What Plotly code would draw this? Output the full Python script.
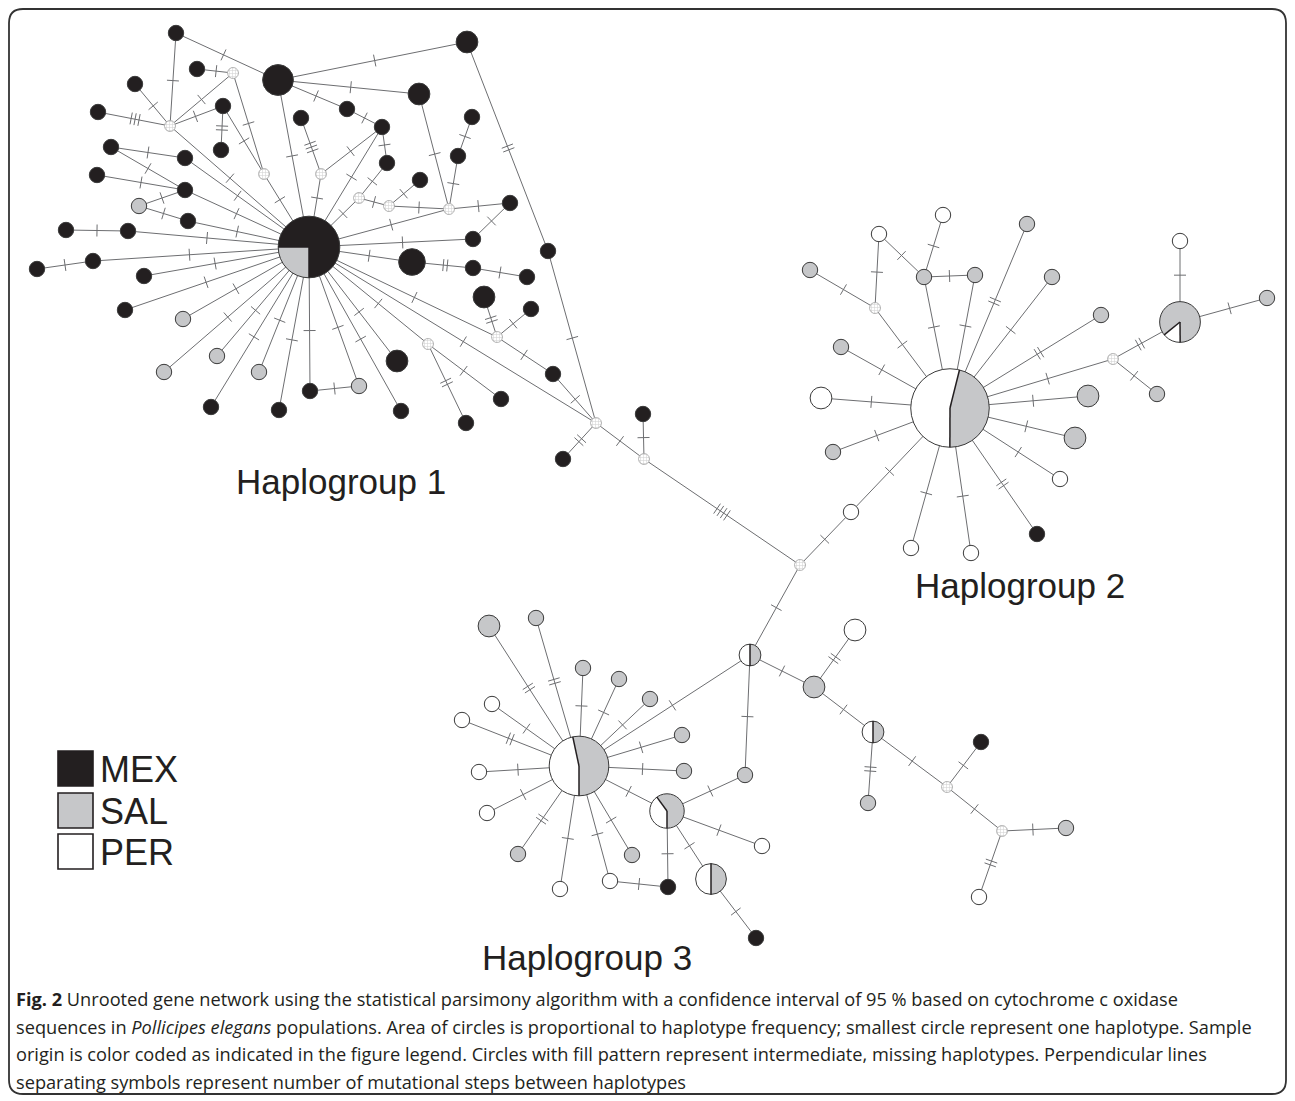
import numpy as np
import plotly.graph_objects as go

# ---------------- data ----------------
# sampled haplotypes: id, layout position, counts per population (MEX, SAL, PER)
hap_ids = ["C1", "a1", "a2", "a3", "a4", "a5", "a6", "a7", "a8", "a9", "a10", "a11", "a12", "a13",
           "a14", "a15", "a16", "a17", "a18", "a19", "a20", "a21", "a22", "a23", "a24", "a25", "a26",
           "a27", "a28", "a29", "a30", "a31", "a32", "a33", "a34", "a35", "a36", "a37", "a38", "a39",
           "a40", "a41", "a42", "a43", "a44", "a45", "a46", "a47", "a48", "a49", "a50", "a51",
           "C2", "b1", "b2", "b3", "b4", "b5", "b6", "b7", "b8", "b9", "b10", "b11", "b12", "b13",
           "b14", "b15", "b16", "b17", "b18", "b19", "b20", "b21", "b22",
           "C3", "c1", "c2", "c3", "c4", "c5", "c6", "c7", "c8", "c9", "c10", "c11", "c12", "c13",
           "c14", "c15", "c16", "c17", "c18", "c19", "c20", "c21", "c22", "c23", "c24", "c25", "c26",
           "c27", "c28", "c29"]
hap_x = [309, 176, 197, 278, 135, 98, 223, 221, 301, 111, 185, 97, 185, 139,
         188, 66, 128, 347, 467, 419, 382, 387, 420, 472, 458, 510, 473,
         548, 412, 473, 527, 484, 531, 397, 359, 401, 466, 501, 553, 563,
         643, 37, 93, 144, 125, 183, 217, 164, 259, 211, 279, 310,
         950, 943, 879, 810, 924, 975, 1027, 1052, 1101, 1180, 1180, 1267, 1157, 841,
         821, 1088, 1075, 833, 1060, 851, 911, 971, 1037,
         579, 489, 536, 583, 619, 650, 682, 684, 492, 462, 479, 487, 518, 560,
         610, 668, 632, 667, 745, 750, 762, 711, 756, 855, 814, 873, 868,
         981, 1066, 979]
hap_y = [247, 33, 69, 80, 84, 112, 106, 150, 118, 147, 158, 175, 190, 206,
         221, 230, 231, 109, 42, 94, 127, 163, 180, 117, 156, 203, 239,
         251, 262, 268, 277, 297, 309, 361, 386, 411, 423, 399, 374, 459,
         414, 269, 261, 276, 310, 319, 356, 372, 372, 407, 410, 391,
         408, 215, 234, 270, 277, 275, 224, 277, 315, 241, 322, 298, 394, 347,
         398, 396, 438, 452, 479, 512, 548, 553, 534,
         766, 626, 618, 668, 679, 699, 735, 771, 704, 720, 772, 813, 854, 889,
         881, 887, 855, 811, 775, 655, 846, 879, 938, 630, 687, 732, 803,
         742, 828, 897]
hap_mex = [12, 1, 1, 4, 1, 1, 1, 1, 1, 1, 1, 1, 1, 0,
           1, 1, 1, 1, 2, 2, 1, 1, 1, 1, 1, 1, 1,
           1, 3, 1, 1, 2, 1, 2, 0, 1, 1, 1, 1, 1,
           1, 1, 1, 1, 1, 0, 0, 0, 0, 1, 1, 1,
           0, 0, 0, 0, 0, 0, 0, 0, 0, 0, 0, 0, 0, 0,
           0, 0, 0, 0, 0, 0, 0, 0, 1,
           0, 0, 0, 0, 0, 0, 0, 0, 0, 0, 0, 0, 0, 0,
           0, 1, 0, 0, 0, 0, 0, 0, 1, 0, 0, 0, 0,
           1, 0, 0]
hap_sal = [4, 0, 0, 0, 0, 0, 0, 0, 0, 0, 0, 0, 0, 1,
           0, 0, 0, 0, 0, 0, 0, 0, 0, 0, 0, 0, 0,
           0, 0, 0, 0, 0, 0, 0, 1, 0, 0, 0, 0, 0,
           0, 0, 0, 0, 0, 1, 1, 1, 1, 0, 0, 0,
           12, 0, 0, 1, 1, 1, 1, 1, 1, 0, 6, 1, 1, 1,
           0, 2, 2, 1, 0, 0, 0, 0, 0,
           8, 2, 1, 1, 1, 1, 1, 1, 0, 0, 0, 0, 1, 0,
           0, 0, 1, 3, 1, 1, 0, 2, 0, 0, 2, 1, 1,
           0, 1, 0]
hap_per = [0, 0, 0, 0, 0, 0, 0, 0, 0, 0, 0, 0, 0, 0,
           0, 0, 0, 0, 0, 0, 0, 0, 0, 0, 0, 0, 0,
           0, 0, 0, 0, 0, 0, 0, 0, 0, 0, 0, 0, 0,
           0, 0, 0, 0, 0, 0, 0, 0, 0, 0, 0, 0,
           14, 1, 1, 0, 0, 0, 0, 0, 0, 1, 1, 0, 0, 0,
           2, 0, 0, 0, 1, 1, 1, 1, 0,
           7, 0, 0, 0, 0, 0, 0, 0, 1, 1, 1, 1, 0, 1,
           1, 0, 0, 2, 0, 1, 1, 2, 0, 2, 0, 1, 0,
           0, 0, 1]

# intermediate, missing haplotypes
missing_ids = ["h1", "h2", "h3", "h4", "h5", "h6", "h7", "h8", "h9", "h10", "h11",
               "h12", "h13", "h14", "h15", "h16"]
missing_x = [233, 170, 264, 321, 359, 389, 449, 497, 428, 596, 644, 875, 1113, 800, 947, 1002]
missing_y = [73, 126, 174, 174, 198, 206, 209, 337, 344, 423, 459, 308, 359, 565, 787, 831]

# network links and number of mutational steps
edge_from = ["C1", "C1", "h3", "h3", "a6", "h1", "h1", "h2", "h2", "h2", "h2", "h2", "a9", "a9",
             "a11", "a13", "a13", "a15", "a16", "a10", "a12", "a14", "a8", "h4", "h4", "a20", "a20",
             "a20", "a3", "a3", "a3", "a1", "a19", "a24", "a23", "h7", "h7", "h6", "h6", "h5", "h5",
             "h7", "a25", "a26", "a28", "a28", "a29", "a18", "a27", "a31", "h8", "h8", "h8", "a38",
             "C1", "C1", "h9", "h9", "C1", "C1", "C1", "C1", "C1", "a42", "C1", "C1", "C1", "C1",
             "C1", "C1", "C1", "C1", "a51", "h10", "h10", "a40", "h11",
             "C2", "h12", "h12", "b2", "b4", "b4", "C2", "C2", "C2", "C2", "C2", "C2", "h13", "h13",
             "b10", "b10", "C2", "C2", "C2", "C2", "C2", "C2", "C2", "b19", "C2", "C2", "C2",
             "h14", "c19", "c19", "c19", "c24", "c24", "c25", "c25", "h15", "h15", "h16", "h16",
             "c18", "c17", "c17", "c17", "c17", "c21", "c14", "C3", "C3", "C3", "C3", "C3", "C3",
             "C3", "C3", "C3", "C3", "C3", "C3", "C3", "C3", "C3"]
edge_to = ["a3", "h3", "h1", "a6", "a7", "a2", "h2", "a1", "a4", "a5", "a6", "C1", "a10", "a12",
           "a12", "a12", "a14", "a16", "C1", "C1", "C1", "C1", "h4", "C1", "a20", "a17", "a21",
           "C1", "a17", "a19", "a18", "a3", "h7", "h7", "a24", "a25", "h6", "a22", "h5", "a21", "C1",
           "C1", "a26", "C1", "C1", "a29", "a30", "a27", "h10", "h8", "a32", "C1", "a38", "h10",
           "h10", "h9", "a37", "a36", "a33", "a35", "a34", "a43", "a42", "a41", "a44", "a45", "a46",
           "a47", "a48", "a49", "a50", "a51", "a34", "a39", "h11", "h11", "h14",
           "h12", "b3", "b2", "b4", "b1", "b5", "b4", "b5", "b6", "b7", "b8", "h13", "b10", "b12",
           "b9", "b11", "b15", "b16", "b18", "b22", "b21", "b20", "b19", "h14", "b17", "b14", "b13",
           "c19", "C3", "c18", "c24", "c23", "c25", "c26", "h15", "c27", "h16", "c28", "c29",
           "c17", "C3", "c20", "c15", "c21", "c22", "c15", "c14", "c16", "c13", "c12", "c11", "c10",
           "c9", "c8", "c1", "c2", "c3", "c4", "c5", "c6", "c7"]
edge_steps = [1, 1, 1, 1, 2, 1, 1, 1, 1, 3, 1, 1, 1, 1,
              1, 1, 1, 1, 1, 1, 1, 1, 3, 1, 1, 1, 1,
              1, 1, 1, 1, 1, 1, 1, 1, 1, 1, 1, 1, 1, 1,
              1, 1, 1, 1, 2, 1, 2, 1, 2, 1, 1, 1, 1,
              1, 1, 1, 2, 1, 1, 1, 1, 1, 1, 1, 1, 1, 1,
              1, 1, 1, 1, 1, 2, 1, 1, 4,
              1, 1, 1, 1, 1, 1, 1, 1, 2, 1, 2, 1, 2, 1,
              1, 1, 1, 1, 1, 2, 1, 1, 1, 1, 1, 1, 1,
              1, 1, 1, 1, 2, 1, 2, 1, 1, 1, 1, 2,
              1, 1, 1, 1, 1, 1, 1, 1, 1, 1, 2, 1, 1,
              2, 1, 2, 2, 1, 1, 1, 1, 1]

populations = ["MEX", "SAL", "PER"]
group_labels = ["Haplogroup 1", "Haplogroup 2", "Haplogroup 3"]
caption_lines = [
    "<b>Fig. 2</b> Unrooted gene network using the statistical parsimony algorithm with a confidence interval of 95 % based on cytochrome c oxidase",
    "sequences in <i>Pollicipes elegans</i> populations. Area of circles is proportional to haplotype frequency; smallest circle represent one haplotype. Sample",
    "origin is color coded as indicated in the figure legend. Circles with fill pattern represent intermediate, missing haplotypes. Perpendicular lines",
    "separating symbols represent number of mutational steps between haplotypes",
]

# ---------------- style ----------------
W, H = 1295, 1101
pop_colors = {"MEX": "#231f20", "SAL": "#c6c7c9", "PER": "#ffffff"}
edge_color = "#6d6e71"
outline = "#3a3a3a"
unit_r = 7.7          # radius of a single-haplotype circle
missing_r = 5.5
pie_start = {"C1": 270, "C2": 14, "C3": -12, "b10": 231, "c17": 324,
             "c19": 0, "c21": 0, "c25": 0}
group_label_pos = [(341, 481), (1020, 585), (587, 957)]

# ---------------- geometry ----------------
pos, rad = {}, {}
for i, k in enumerate(hap_ids):
    n = hap_mex[i] + hap_sal[i] + hap_per[i]
    pos[k] = (hap_x[i], hap_y[i])
    rad[k] = unit_r * np.sqrt(n)
for i, k in enumerate(missing_ids):
    pos[k] = (missing_x[i], missing_y[i])
    rad[k] = missing_r

fig = go.Figure()

# edges
ex, ey = [], []
tx, ty = [], []
for a, b, s in zip(edge_from, edge_to, edge_steps):
    (x0, y0), (x1, y1) = pos[a], pos[b]
    ex += [x0, x1, None]
    ey += [y0, y1, None]
    d = np.hypot(x1 - x0, y1 - y0)
    ux, uy = (x1 - x0) / d, (y1 - y0) / d
    px, py = -uy, ux
    sx, sy = x0 + ux * rad[a], y0 + uy * rad[a]
    fx, fy = x1 - ux * rad[b], y1 - uy * rad[b]
    mx, my = (sx + fx) / 2, (sy + fy) / 2
    for j in range(s):
        off = (j - (s - 1) / 2) * 4.0
        cx, cy = mx + ux * off, my + uy * off
        tx += [cx - px * 6, cx + px * 6, None]
        ty += [cy - py * 6, cy + py * 6, None]

fig.add_trace(go.Scatter(x=ex, y=ey, mode="lines", line=dict(color=edge_color, width=1),
                         hoverinfo="skip", showlegend=False))
fig.add_trace(go.Scatter(x=tx, y=ty, mode="lines", line=dict(color=edge_color, width=1),
                         hoverinfo="skip", showlegend=False))

# missing (hatched) nodes
th = np.linspace(0, 2 * np.pi, 40)
mxs, mys = [], []
for k in missing_ids:
    cx, cy = pos[k]
    mxs += list(cx + missing_r * np.cos(th)) + [None]
    mys += list(cy + missing_r * np.sin(th)) + [None]
fig.add_trace(go.Scatter(x=mxs, y=mys, mode="lines", fill="toself",
                         fillcolor="#f2f2f2",
                         fillpattern=dict(shape="+", size=3, solidity=0.35,
                                          fgcolor="#a8a8a8", bgcolor="#ffffff"),
                         line=dict(color="#a0a0a0", width=0.8),
                         hoverinfo="skip", showlegend=False))

shapes = []


def pt(cx, cy, r, ang):
    a = np.radians(ang)
    return cx + r * np.sin(a), cy - r * np.cos(a)


for i, k in enumerate(hap_ids):
    cx, cy = pos[k]
    r = rad[k]
    counts = [hap_mex[i], hap_sal[i], hap_per[i]]
    n = sum(counts)
    nz = [c for c in counts if c > 0]
    if len(nz) == 1:
        col = pop_colors[populations[[c > 0 for c in counts].index(True)]]
        shapes.append(dict(type="circle", xref="x", yref="y", x0=cx - r, x1=cx + r,
                           y0=cy - r, y1=cy + r, fillcolor=col,
                           line=dict(color=outline, width=1)))
        continue
    a = pie_start.get(k, 0)
    bounds = []
    for p, c in zip(populations, counts):
        if c == 0:
            continue
        span = 360.0 * c / n
        angs = np.linspace(a, a + span, max(8, int(span / 3)))
        path = f"M{cx},{cy} " + " ".join(
            "L{:.2f},{:.2f}".format(*pt(cx, cy, r, g)) for g in angs) + " Z"
        shapes.append(dict(type="path", xref="x", yref="y", path=path,
                           fillcolor=pop_colors[p], line=dict(width=0)))
        bounds.append(a)
        a += span
    shapes.append(dict(type="circle", xref="x", yref="y", x0=cx - r, x1=cx + r,
                       y0=cy - r, y1=cy + r, fillcolor="rgba(0,0,0,0)",
                       line=dict(color=outline, width=1)))
    for g in bounds:
        bx, by = pt(cx, cy, r, g)
        shapes.append(dict(type="line", xref="x", yref="y", x0=cx, y0=cy, x1=bx, y1=by,
                           line=dict(color="#231f20", width=1.5)))

# legend boxes
leg_top = [751, 793, 834]
for p, t in zip(populations, leg_top):
    shapes.append(dict(type="rect", xref="x", yref="y", x0=58, x1=93, y0=t, y1=t + 35,
                       fillcolor=pop_colors[p], line=dict(color="#231f20", width=1.6)))

# rounded frame
x0, y0, x1, y1, rr = 9, 9, 1286, 1094, 14
frame = (f"M{x0 + rr},{y0} L{x1 - rr},{y0} Q{x1},{y0} {x1},{y0 + rr} "
         f"L{x1},{y1 - rr} Q{x1},{y1} {x1 - rr},{y1} L{x0 + rr},{y1} "
         f"Q{x0},{y1} {x0},{y1 - rr} L{x0},{y0 + rr} Q{x0},{y0} {x0 + rr},{y0} Z")
shapes.append(dict(type="path", xref="x", yref="y", path=frame,
                   line=dict(color="#333333", width=1.8), fillcolor="rgba(0,0,0,0)"))

annotations = []
for lab, (lx, ly) in zip(group_labels, group_label_pos):
    annotations.append(dict(x=lx, y=ly, xref="x", yref="y", text=lab, showarrow=False,
                            xanchor="center", yanchor="middle",
                            font=dict(family="Liberation Sans, Arial", size=35, color="#231f20")))
for p, t in zip(populations, leg_top):
    annotations.append(dict(x=98, y=t + 18, xref="x", yref="y", text=p, showarrow=False,
                            xanchor="left", yanchor="middle",
                            font=dict(family="Liberation Sans, Arial", size=36, color="#231f20")))
for j, line in enumerate(caption_lines):
    annotations.append(dict(x=14, y=999 + 27.7 * j, xref="x", yref="y", text=line,
                            showarrow=False, xanchor="left", yanchor="middle",
                            font=dict(family="Open Sans", size=18.2, color="#231f20")))

fig.update_layout(
    width=W, height=H, autosize=False,
    margin=dict(l=0, r=0, t=0, b=0, pad=0),
    paper_bgcolor="white", plot_bgcolor="white",
    xaxis=dict(range=[0, W], visible=False, fixedrange=True),
    yaxis=dict(range=[H, 0], visible=False, fixedrange=True),
    shapes=shapes, annotations=annotations, showlegend=False,
)

fig.write_html("out.html", config={"displayModeBar": False},
               post_script="document.body.style.margin='0px';")
